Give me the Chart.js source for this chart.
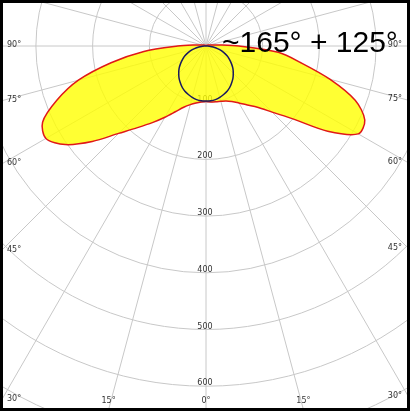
<!DOCTYPE html>
<html>
<head>
<meta charset="utf-8">
<script src="https://cdn.jsdelivr.net/npm/chart.js@4.4.0/dist/chart.umd.min.js"></script>
<style>
  html, body { margin: 0; padding: 0; background: #fff; }
  #wrap { width: 414px; height: 413px; }
</style>
</head>
<body>
<div id="wrap"><canvas id="polarChart"></canvas></div>
<script>
// gamma angles (deg from straight down) and intensity per plane
const gammaAngles = [0, 5, 10, 15, 20, 25, 30, 35, 40, 45, 50, 55, 60, 65, 70, 75, 80, 85, 90, 95, 100, 110, 120, 135, 150, 165, 180];
const leftPlane  = [98, 99, 102, 107, 115, 128, 145, 165, 188, 218, 262, 303, 326, 318, 280, 233, 170, 110, 50, 22, 10, 5, 3, 2, 1, 1, 1];
const rightPlane = [98, 99, 100, 101, 103, 108, 116, 127, 141, 165, 200, 262, 310, 309, 280, 226, 170, 128, 58, 22, 10, 5, 3, 2, 1, 1, 1];
const crossPlane = [97, 97, 96, 94, 91, 88, 84, 79, 74, 68, 62, 55, 48, 41, 33, 25, 17, 8, 1, 0, 0, 0, 0, 0, 0, 0, 0];
const ringValues = [100, 200, 300, 400, 500, 600, 700];
const ringLabels = ['100', '200', '300', '400', '500', '600'];
const angleTicks = [0, 15, 30, 45, 60, 75, 90];
const titleText = '~165° + 125°';

// layout of the diagram (pixels)
const W = 414, H = 413;
const center = { x: 206, y: 46 };
const pxPerUnit = 0.567;
const frame = { left: 1.5, top: 1.5, right: 408.5, bottom: 409.5 };

function toXY(angle, value, side) {
    const a = angle * Math.PI / 180;
    return { x: side * value * Math.sin(a), y: -value * Math.cos(a) };
}

function closedCurve(leftVals, rightVals) {
    const pts = [];
    for (let i = gammaAngles.length - 1; i >= 0; i--) pts.push(toXY(gammaAngles[i], leftVals[i], -1));
    for (let i = 1; i < gammaAngles.length; i++) pts.push(toXY(gammaAngles[i], rightVals[i], 1));
    pts.push(pts[0]);
    return pts;
}

const polarGrid = {
    id: 'polarGrid',
    beforeDatasetsDraw(chart) {
        const { ctx, scales: { x, y } } = chart;
        const cx = x.getPixelForValue(0), cy = y.getPixelForValue(0);
        ctx.save();
        ctx.beginPath();
        ctx.rect(frame.left, frame.top, frame.right - frame.left, frame.bottom - frame.top);
        ctx.clip();
        ctx.strokeStyle = '#c8c8c8';
        ctx.lineWidth = 1;
        ringValues.forEach(v => {
            const rx = x.getPixelForValue(v) - cx;
            const ry = cy - y.getPixelForValue(v);
            ctx.beginPath();
            ctx.ellipse(cx, cy, rx, ry, 0, 0, Math.PI * 2);
            ctx.stroke();
        });
        for (let a = 0; a < 360; a += 15) {
            const end = toXY(a, 1000, 1);
            ctx.beginPath();
            ctx.moveTo(cx, cy);
            ctx.lineTo(x.getPixelForValue(end.x), y.getPixelForValue(end.y));
            ctx.stroke();
        }
        // ring labels along the 0° axis
        ctx.font = '8px "DejaVu Sans"';
        ctx.fillStyle = '#333';
        ctx.textAlign = 'center';
        ctx.textBaseline = 'middle';
        ringLabels.forEach((t, i) => {
            ctx.fillText(t, cx - 1, y.getPixelForValue(-ringValues[i]) - 3);
        });
        // angle labels where the rays meet the frame
        const leftText = 7, rightText = 402, labelRow = 401;
        angleTicks.forEach(a => {
            [-1, 1].forEach(side => {
                if (a === 0 && side === 1) return;
                const r = a * Math.PI / 180;
                const wallDist = side < 0 ? cx - frame.left : frame.right - cx;
                const yWall = a === 0 ? Infinity : cy + wallDist / Math.tan(r);
                if (yWall < labelRow) {
                    ctx.textAlign = side < 0 ? 'left' : 'right';
                    ctx.fillText(a + '°', side < 0 ? leftText : rightText, yWall - 1);
                } else {
                    ctx.textAlign = 'center';
                    ctx.fillText(a + '°', cx + side * (frame.bottom - cy) * Math.tan(r), labelRow);
                }
            });
        });
        ctx.restore();
    },
    afterDatasetsDraw(chart) {
        const { ctx } = chart;
        ctx.save();
        ctx.font = '30px "Liberation Sans", Arial, sans-serif';
        ctx.fillStyle = '#000';
        ctx.textAlign = 'left';
        ctx.textBaseline = 'alphabetic';
        ctx.fillText(titleText, 222, 52);
        ctx.strokeStyle = '#000';
        ctx.lineWidth = 3;
        ctx.strokeRect(frame.left, frame.top, frame.right - frame.left, frame.bottom - frame.top);
        ctx.restore();
    }
};

const ctx = document.getElementById('polarChart').getContext('2d');
new Chart(ctx, {
    type: 'scatter',
    data: {
        datasets: [{
            label: 'C0-C180',
            data: closedCurve(leftPlane, rightPlane),
            showLine: true,
            borderColor: '#e01818',
            borderWidth: 1.5,
            backgroundColor: 'rgba(255, 255, 0, 0.8)',
            fill: 'shape',
            tension: 0.3,
            pointRadius: 0,
            order: 2
        }, {
            label: 'C90-C270',
            data: closedCurve(crossPlane, crossPlane),
            showLine: true,
            borderColor: '#1a1a5e',
            borderWidth: 1.5,
            fill: false,
            tension: 0.3,
            pointRadius: 0,
            order: 1
        }]
    },
    options: {
        responsive: true,
        maintainAspectRatio: false,
        animation: false,
        devicePixelRatio: 1,
        layout: { padding: 0 },
        scales: {
            x: { type: 'linear', display: false, bounds: 'data', min: -center.x / pxPerUnit, max: (W - center.x) / pxPerUnit },
            y: { type: 'linear', display: false, bounds: 'data', min: -(H - center.y) / pxPerUnit, max: center.y / pxPerUnit }
        },
        plugins: {
            legend: { display: false },
            tooltip: { enabled: false }
        },
        events: []
    },
    plugins: [polarGrid]
});
</script>
</body>
</html>
